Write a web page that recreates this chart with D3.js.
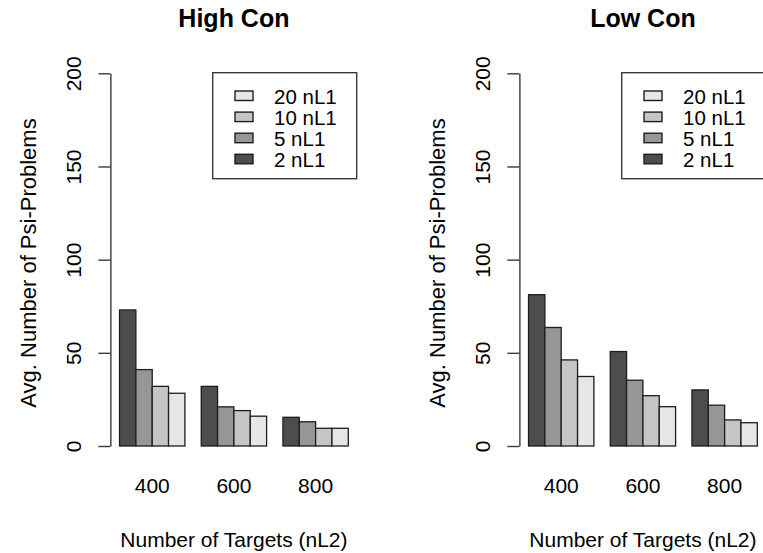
<!DOCTYPE html>
<html>
<head>
<meta charset="utf-8">
<script src="https://cdn.jsdelivr.net/npm/d3@7"></script>
<style>
  html, body { margin: 0; padding: 0; background: #fff; }
  svg { display: block; font-family: "Liberation Sans", Arial, sans-serif; }
</style>
</head>
<body>
<svg id="chart" width="763" height="553"></svg>
<script>
// ---- data ----
const panels = ["High Con", "Low Con"];
const targets = ["400", "600", "800"];
const series = ["2 nL1", "5 nL1", "10 nL1", "20 nL1"];
const legendOrder = ["20 nL1", "10 nL1", "5 nL1", "2 nL1"];
const colors = ["#4d4d4d", "#969696", "#c5c5c5", "#e6e6e6"];
// values per target, in series order (2, 5, 10, 20 nL1)
const highCon = [
  [73.0, 41.0, 32.0, 28.3],
  [32.0, 21.0, 19.0, 16.0],
  [15.4, 13.0, 9.5, 9.5]
];
const lowCon = [
  [81.2, 63.6, 46.2, 37.3],
  [50.7, 35.3, 27.0, 21.1],
  [30.1, 21.9, 14.0, 12.5]
];
const yTicks = [0, 50, 100, 150, 200];
const xTitle = "Number of Targets (nL2)";
const yTitle = "Avg. Number of Psi-Problems";

const panelData = [highCon, lowCon];
const svg = d3.select("#chart");
svg.append("rect").attr("width", 763).attr("height", 553).attr("fill", "#fff");

const unit = 16.34;           // one bar width in px
const u0 = 103.2;             // pixel of unit 0 (left panel)
const panelOffset = 409;
const font = '"Liberation Sans", Arial, sans-serif';

const color = d3.scaleOrdinal().domain(series).range(colors);

panels.forEach((title, p) => {
  const g = svg.append("g").attr("transform", `translate(${p * panelOffset},0)`);
  const data = panelData[p];

  const y = d3.scaleLinear().domain([0, 200]).range([446, 73.3]);
  const x0 = d3.scaleBand().domain(targets)
    .range([u0, u0 + 15 * unit])
    .paddingInner(0.2).paddingOuter(0.1).align(1);
  const x1 = d3.scaleBand().domain(series).range([0, x0.bandwidth()]).padding(0);

  const plotLeft = u0 + 0.44 * unit;
  const plotRight = u0 + 15.56 * unit;
  const cx = (plotLeft + plotRight) / 2;

  // bars
  const groups = g.selectAll("g.grp").data(targets).join("g")
    .attr("class", "grp")
    .attr("transform", t => `translate(${x0(t)},0)`);
  groups.selectAll("rect").data((t, i) => series.map((s, j) => ({ s, v: data[i][j] })))
    .join("rect")
    .attr("x", d => x1(d.s))
    .attr("y", d => y(d.v))
    .attr("width", x1.bandwidth())
    .attr("height", d => y(0) - y(d.v))
    .attr("fill", d => color(d.s))
    .attr("stroke", "#1e1e1e")
    .attr("stroke-width", 1.3);

  // y axis
  const yAxis = g.append("g")
    .attr("transform", `translate(${plotLeft},0)`)
    .call(d3.axisLeft(y).tickValues(yTicks).tickSize(12).tickSizeOuter(0).tickFormat(d3.format("d")));
  yAxis.select(".domain").attr("stroke", "#3a3a3a").attr("stroke-width", 1.4);
  yAxis.selectAll(".tick line").attr("stroke", "#3a3a3a").attr("stroke-width", 1.4);
  yAxis.selectAll(".tick text")
    .attr("x", null).attr("dy", null)
    .attr("transform", "translate(-29,0) rotate(-90)")
    .attr("text-anchor", "middle")
    .attr("fill", "#000")
    .style("font-family", font)
    .style("font-size", "21px");

  // x axis (labels only)
  const xAxis = g.append("g")
    .attr("transform", `translate(0,${446})`)
    .call(d3.axisBottom(x0).tickSize(0));
  xAxis.select(".domain").remove();
  xAxis.selectAll(".tick text")
    .attr("y", 47).attr("dy", null)
    .attr("fill", "#000")
    .style("font-family", font)
    .style("font-size", "21px");

  // titles
  g.append("text")
    .attr("x", cx).attr("y", 26.7)
    .attr("text-anchor", "middle")
    .style("font-family", font)
    .style("font-size", "25px").style("font-weight", "bold")
    .text(title);
  g.append("text")
    .attr("x", cx).attr("y", 546.5)
    .attr("text-anchor", "middle")
    .style("font-family", font).style("font-size", "21px")
    .text(xTitle);
  g.append("text")
    .attr("transform", `translate(36,263) rotate(-90)`)
    .attr("text-anchor", "middle")
    .style("font-family", font).style("font-size", "22px")
    .text(yTitle);

  // legend
  const lg = g.append("g");
  lg.append("rect")
    .attr("x", 212.7).attr("y", 72.7).attr("width", 144).attr("height", 106)
    .attr("fill", "#fff").attr("stroke", "#3a3a3a").attr("stroke-width", 1.4);
  const rows = lg.selectAll("g.row").data(legendOrder).join("g")
    .attr("class", "row")
    .attr("transform", (d, i) => `translate(0,${103.5 + i * 21.1})`);
  rows.append("rect")
    .attr("x", 235).attr("y", -12.5).attr("width", 18).attr("height", 9.5)
    .attr("fill", d => color(d)).attr("stroke", "#1e1e1e").attr("stroke-width", 1.4);
  rows.append("text")
    .attr("x", 274).attr("y", 0)
    .style("font-family", font).style("font-size", "20.5px")
    .text(d => d);
});
</script>
</body>
</html>
